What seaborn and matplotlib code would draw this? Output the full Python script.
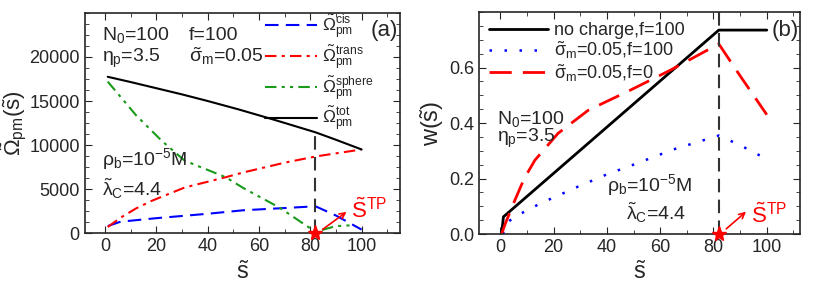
import numpy as np
import pandas as pd
import matplotlib
matplotlib.use("Agg")
import matplotlib.pyplot as plt
from matplotlib.ticker import MultipleLocator
import seaborn as sns

# ---- data ----
s_tp = 82

# panel (a)
s_tot = [1, 10, 20, 30, 40, 52, 65, 82, 90, 100]
om_tot = [17750, 17150, 16450, 15750, 15000, 14050, 12950, 11450, 10600, 9500]
s_trans = [1, 6, 12, 18, 31, 47, 54, 70, 82, 100]
om_trans = [700, 1750, 2800, 3650, 5180, 6350, 6900, 8000, 8700, 9500]
s_sph = [1, 12, 22, 31, 47, 54, 68, 82, 90, 97]
om_sph = [17200, 13400, 10500, 8230, 6350, 5100, 2900, 150, 800, 900]
s_cis = [1, 6, 20, 40, 54, 70, 82, 90, 100]
om_cis = [800, 1300, 1700, 2200, 2600, 2850, 3050, 2000, 400]

# panel (b)
s_nc = [0.5, 1.2, 82, 100]
w_nc = [0.0, 0.062, 0.735, 0.735]
s_f100 = [1, 2, 5, 15, 29, 40, 50, 65, 82, 90, 100]
w_f100 = [0.0, 0.035, 0.06, 0.11, 0.17, 0.215, 0.25, 0.305, 0.355, 0.32, 0.27]
s_f0 = [0.5, 2, 5.5, 9, 13, 21.7, 33, 48.7, 63.7, 82, 90, 100]
w_f0 = [0.0, 0.04, 0.122, 0.2, 0.266, 0.363, 0.446, 0.518, 0.59, 0.685, 0.57, 0.43]

sns.set_style("ticks")
plt.rcParams['font.family'] = ['Liberation Sans', 'DejaVu Sans']
plt.rcParams['mathtext.fontset'] = 'custom'
plt.rcParams['mathtext.rm'] = 'Liberation Sans'
plt.rcParams['mathtext.it'] = 'Liberation Sans'
plt.rcParams['xtick.direction'] = 'in'
plt.rcParams['ytick.direction'] = 'in'

fig = plt.figure(figsize=(8.3, 2.94), dpi=100)
ax1 = fig.add_axes([0.102, 0.207, 0.380, 0.749])
ax2 = fig.add_axes([0.577, 0.204, 0.387, 0.755])

fs = 14

######## panel (a) ########
sns.lineplot(x=s_cis, y=om_cis, ax=ax1, color='blue', linestyle=(0, (6.5, 3.5)), lw=1.5,
             label=r'$\tilde{\Omega}^{\rm cis}_{\rm pm}$')
sns.lineplot(x=s_trans, y=om_trans, ax=ax1, color='red', linestyle=(0, (5.5, 2.5, 1.5, 2.5)), lw=1.5,
             label=r'$\tilde{\Omega}^{\rm trans}_{\rm pm}$')
sns.lineplot(x=s_sph, y=om_sph, ax=ax1, color='#1a9a1a', linestyle=(0, (5.5, 2.5, 1.5, 2.5, 1.5, 2.5)), lw=1.5,
             label=r'$\tilde{\Omega}^{\rm sphere}_{\rm pm}$')
sns.lineplot(x=s_tot, y=om_tot, ax=ax1, color='black', lw=1.5,
             label=r'$\tilde{\Omega}^{\rm tot}_{\rm pm}$')
ax1.vlines(s_tp, 0, np.interp(s_tp, s_tot, om_tot), color='#333333', linestyles=(0, (6.5, 3.5)), lw=1.5)
ax1.plot([s_tp], [0], marker='*', color='red', ms=11, clip_on=False, zorder=5)
ax1.annotate('', xy=(95, 2600), xytext=(84, 250),
             arrowprops=dict(arrowstyle='->', color='red', lw=1.2))
ax1.text(96, 1700, r'$\tilde{\rm S}^{\rm TP}$', color='red', fontsize=16, va='baseline')

ax1.set_xlim(-8, 115)
ax1.set_ylim(0, 25000)
ax1.xaxis.set_major_locator(MultipleLocator(20))
ax1.xaxis.set_minor_locator(MultipleLocator(10))
ax1.set_yticks([0, 5000, 10000, 15000, 20000])
ax1.yaxis.set_minor_locator(MultipleLocator(1250))
ax1.set_xlabel(r'$\tilde{\rm s}$', fontsize=17)
ax1.set_ylabel(r'$\tilde{\Omega}_{\rm pm}(\tilde{\rm s})$', fontsize=16, labelpad=0)

ax1.text(-1.3, 21900, r'N$_0$=100', fontsize=fs)
ax1.text(-1.3, 19400, r'$\eta_{\rm p}$=3.5', fontsize=fs)
ax1.text(32.5, 21900, 'f=100', fontsize=fs)
ax1.text(32.5, 19400, r'$\tilde{\sigma}_{\rm m}$=0.05', fontsize=fs)
ax1.text(-1.3, 7700, r'$\rho_{\rm b}$=10$^{-5}$M', fontsize=fs)
ax1.text(-1.3, 4250, r'$\tilde{\lambda}_{\rm C}$=4.4', fontsize=fs)
ax1.text(0.995, 0.97, '(a)', transform=ax1.transAxes, ha='right', va='top', fontsize=16)
ax1.legend(loc='upper right', bbox_to_anchor=(0.95, 1.05), frameon=False, fontsize=12.5,
           handlelength=3.0, handletextpad=0.3, labelspacing=0.12, borderaxespad=0.2)

######## panel (b) ########
sns.lineplot(x=s_nc, y=w_nc, ax=ax2, color='black', lw=2, label='no charge,f=100')
sns.lineplot(x=s_f100, y=w_f100, ax=ax2, color='blue', linestyle=(0, (1, 5)), lw=1.8,
             label=r'$\tilde{\sigma}_{\rm m}$=0.05,f=100')
sns.lineplot(x=s_f0, y=w_f0, ax=ax2, color='red', linestyle=(0, (8, 4)), lw=2,
             label=r'$\tilde{\sigma}_{\rm m}$=0.05,f=0')
ax2.axvline(s_tp, color='#333333', linestyle=(0, (6.5, 3.5)), lw=1.5)
ax2.plot([s_tp], [0], marker='*', color='red', ms=11, clip_on=False, zorder=5)
ax2.annotate('', xy=(93, 0.087), xytext=(84, 0.012),
             arrowprops=dict(arrowstyle='->', color='red', lw=1.2))
ax2.text(94, 0.04, r'$\tilde{\rm S}^{\rm TP}$', color='red', fontsize=16, va='baseline')

ax2.set_xlim(-8, 112.5)
ax2.set_ylim(0, 0.8)
ax2.xaxis.set_major_locator(MultipleLocator(20))
ax2.xaxis.set_minor_locator(MultipleLocator(10))
ax2.set_yticks([0.0, 0.2, 0.4, 0.6])
ax2.yaxis.set_minor_locator(MultipleLocator(0.05))
ax2.set_xlabel(r'$\tilde{\rm s}$', fontsize=17)
ax2.set_ylabel(r'w($\tilde{\rm s}$)', fontsize=17, labelpad=2)

ax2.text(-1.3, 0.395, r'N$_0$=100', fontsize=fs)
ax2.text(-1.3, 0.33, r'$\eta_{\rm p}$=3.5', fontsize=fs)
ax2.text(40, 0.153, r'$\rho_{\rm b}$=10$^{-5}$M', fontsize=fs)
ax2.text(47, 0.05, r'$\tilde{\lambda}_{\rm C}$=4.4', fontsize=fs)
ax2.text(0.995, 0.965, '(b)', transform=ax2.transAxes, ha='right', va='top', fontsize=16)
ax2.legend(loc='upper left', frameon=False, fontsize=13, handlelength=3.3,
           handletextpad=0.3, labelspacing=0.05, borderaxespad=0.15)

for ax in (ax1, ax2):
    ax.tick_params(which='both', top=True, right=True, labelsize=13)
    ax.tick_params(which='major', length=5)
    ax.tick_params(which='minor', length=3)
    for sp in ax.spines.values():
        sp.set_linewidth(1.2)

fig.savefig('out.png', dpi=100)
